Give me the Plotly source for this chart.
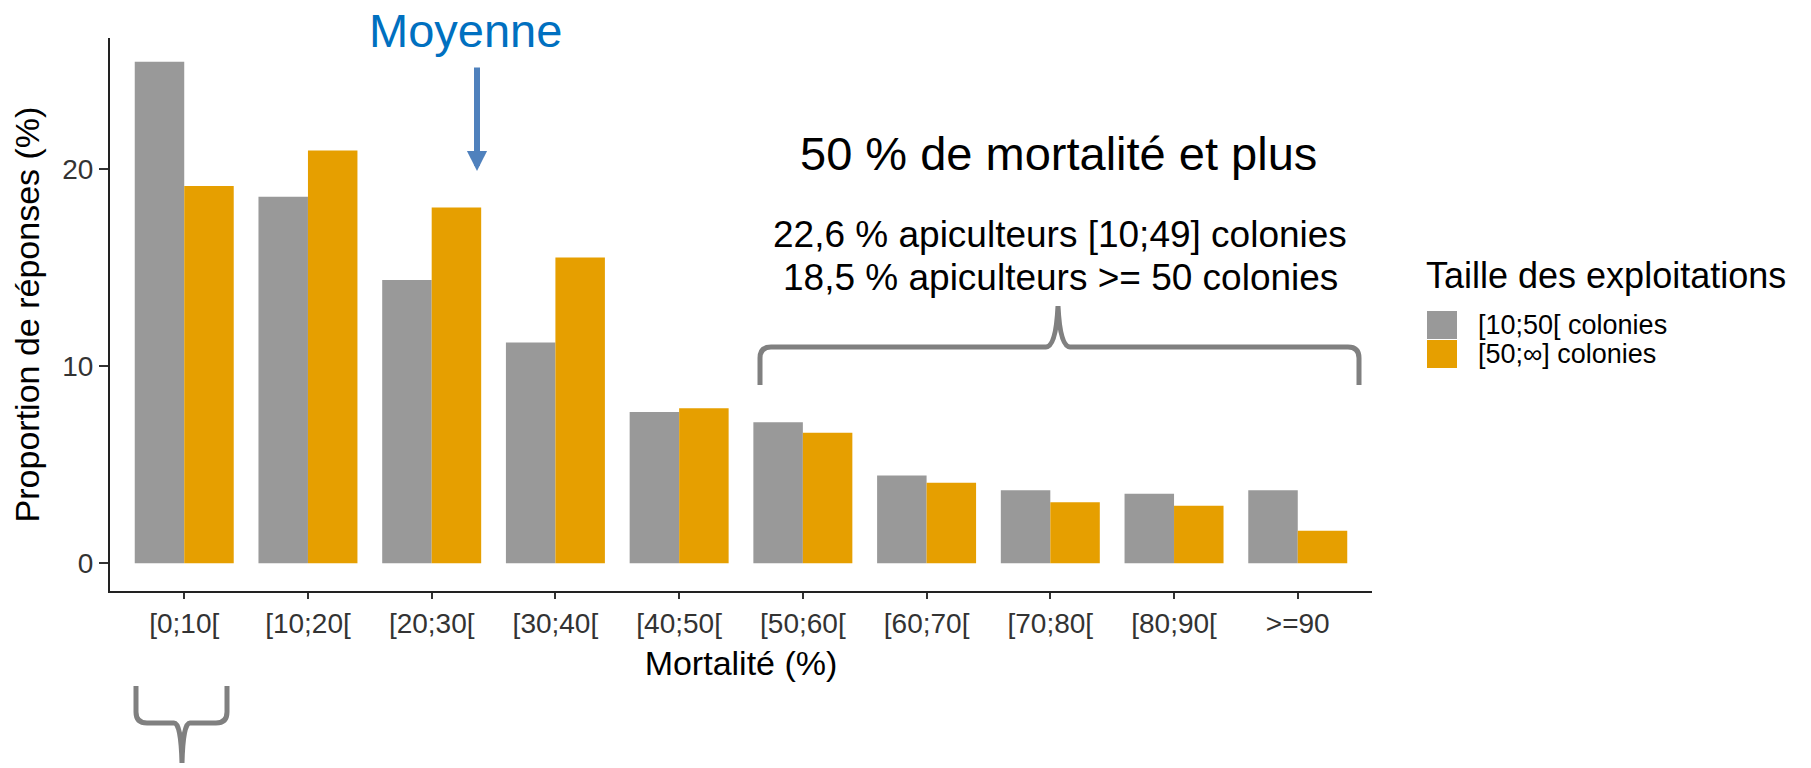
import plotly.graph_objects as go

# ---------------- data ----------------
categories = ["[0;10[", "[10;20[", "[20;30[", "[30;40[", "[40;50[",
              "[50;60[", "[60;70[", "[70;80[", "[80;90[", ">=90"]
small_farms = [25.45, 18.6, 14.37, 11.21, 7.67, 7.15, 4.45, 3.71, 3.53, 3.71]
large_farms = [19.15, 20.95, 18.06, 15.52, 7.86, 6.62, 4.08, 3.09, 2.92, 1.65]
series_names = ["[10;50[ colonies", "[50;∞] colonies"]
y_tickvals = [0, 10, 20]

# ---------------- style ----------------
GREY = "#999999"
ORANGE = "#E69F00"
BRACE = "#808080"
FONT = "Arial, Liberation Sans, sans-serif"

W, H = 1811, 768
L, R, T, B = 110, 1372, 38, 591          # plot-area pixel bounds


def px(x):
    return (x - L) / (R - L)


def py(y):
    return (B - y) / (B - T)


def path(cmds):
    out = []
    for letter, pts in cmds:
        out.append(letter + " ".join(f"{px(x):.5f},{py(y):.5f}" for x, y in pts))
    return " ".join(out)


fig = go.Figure()
fig.add_trace(go.Bar(x=categories, y=small_farms, name=series_names[0],
                     marker=dict(color=GREY, line=dict(width=0))))
fig.add_trace(go.Bar(x=categories, y=large_farms, name=series_names[1],
                     marker=dict(color=ORANGE, line=dict(width=0))))

top_brace = path([
    ("M", [(760, 385)]), ("L", [(760, 358)]), ("Q", [(760, 347), (771, 347)]),
    ("L", [(1046, 347)]), ("Q", [(1056, 347), (1058, 306)]),
    ("Q", [(1060, 347), (1070, 347)]), ("L", [(1348, 347)]),
    ("Q", [(1359, 347), (1359, 358)]), ("L", [(1359, 385)]),
])
bottom_brace = path([
    ("M", [(136, 686)]), ("L", [(136, 712)]), ("Q", [(136, 723), (147, 723)]),
    ("L", [(174, 723)]), ("Q", [(181, 723), (182, 763)]),
    ("Q", [(183, 723), (190, 723)]), ("L", [(216, 723)]),
    ("Q", [(227, 723), (227, 712)]), ("L", [(227, 686)]),
])

shapes = [
    dict(type="path", xref="paper", yref="paper", path=top_brace,
         line=dict(color=BRACE, width=5)),
    dict(type="path", xref="paper", yref="paper", path=bottom_brace,
         line=dict(color=BRACE, width=5)),
    # legend keys
    dict(type="rect", xref="paper", yref="paper", x0=px(1427), x1=px(1457),
         y0=py(339), y1=py(311), fillcolor=GREY, line=dict(width=0)),
    dict(type="rect", xref="paper", yref="paper", x0=px(1427), x1=px(1457),
         y0=py(368), y1=py(340), fillcolor=ORANGE, line=dict(width=0)),
]

annotations = [
    dict(text="Moyenne", x=px(465), y=py(31), xref="paper", yref="paper",
         showarrow=False, font=dict(size=47, color="#0070C0", family=FONT),
         xanchor="center", yanchor="middle"),
    dict(text="", x=px(477), y=py(171), xref="paper", yref="paper",
         showarrow=True, ax=0, ay=-105, arrowcolor="#4F81BD", arrowwidth=6,
         arrowhead=2, arrowsize=0.67, standoff=0),
    dict(text="50 % de mortalité et plus", x=px(1058), y=py(153),
         xref="paper", yref="paper", showarrow=False,
         font=dict(size=47, color="black", family=FONT),
         xanchor="center", yanchor="middle"),
    dict(text="22,6 % apiculteurs [10;49] colonies", x=px(1060), y=py(234),
         xref="paper", yref="paper", showarrow=False,
         font=dict(size=37, color="black", family=FONT),
         xanchor="center", yanchor="middle"),
    dict(text="18,5 % apiculteurs >= 50 colonies", x=px(1060), y=py(277),
         xref="paper", yref="paper", showarrow=False,
         font=dict(size=37, color="black", family=FONT),
         xanchor="center", yanchor="middle"),
    # legend
    dict(text="Taille des exploitations", x=px(1424), y=py(275),
         xref="paper", yref="paper", showarrow=False,
         font=dict(size=36, color="black", family=FONT),
         xanchor="left", yanchor="middle"),
    dict(text=series_names[0], x=px(1476), y=py(325), xref="paper", yref="paper",
         showarrow=False, font=dict(size=27, color="black", family=FONT),
         xanchor="left", yanchor="middle"),
    dict(text=series_names[1], x=px(1476), y=py(354), xref="paper", yref="paper",
         showarrow=False, font=dict(size=27, color="black", family=FONT),
         xanchor="left", yanchor="middle"),
]

fig.update_layout(
    width=W, height=H, autosize=False,
    margin=dict(l=L, r=W - R, t=T, b=H - B, pad=0),
    paper_bgcolor="white", plot_bgcolor="white",
    barmode="group", bargap=0.2, bargroupgap=0,
    showlegend=False,
    font=dict(family=FONT, color="black"),
    shapes=shapes, annotations=annotations,
    xaxis=dict(
        type="category", range=[-0.6, 9.6], showgrid=False, zeroline=False,
        showline=True, linecolor="#222222", linewidth=2,
        ticks="outside", ticklen=6, tickwidth=2, tickcolor="#333333",
        tickfont=dict(size=28, color="#333333", family=FONT),
        title=dict(text="Mortalité (%)", font=dict(size=34, color="black", family=FONT),
                   standoff=14),
    ),
    yaxis=dict(
        range=[-1.41, 26.66], tickvals=y_tickvals, showgrid=False, zeroline=False,
        showline=True, linecolor="#222222", linewidth=2,
        ticks="outside", ticklen=9, tickwidth=2, tickcolor="#333333",
        tickfont=dict(size=28, color="#333333", family=FONT),
        title=dict(text="Proportion de réponses (%)",
                   font=dict(size=34, color="black", family=FONT), standoff=12),
    ),
)

fig.write_html("out.html", config={"displayModeBar": False},
               post_script="document.body.style.margin='0';")
